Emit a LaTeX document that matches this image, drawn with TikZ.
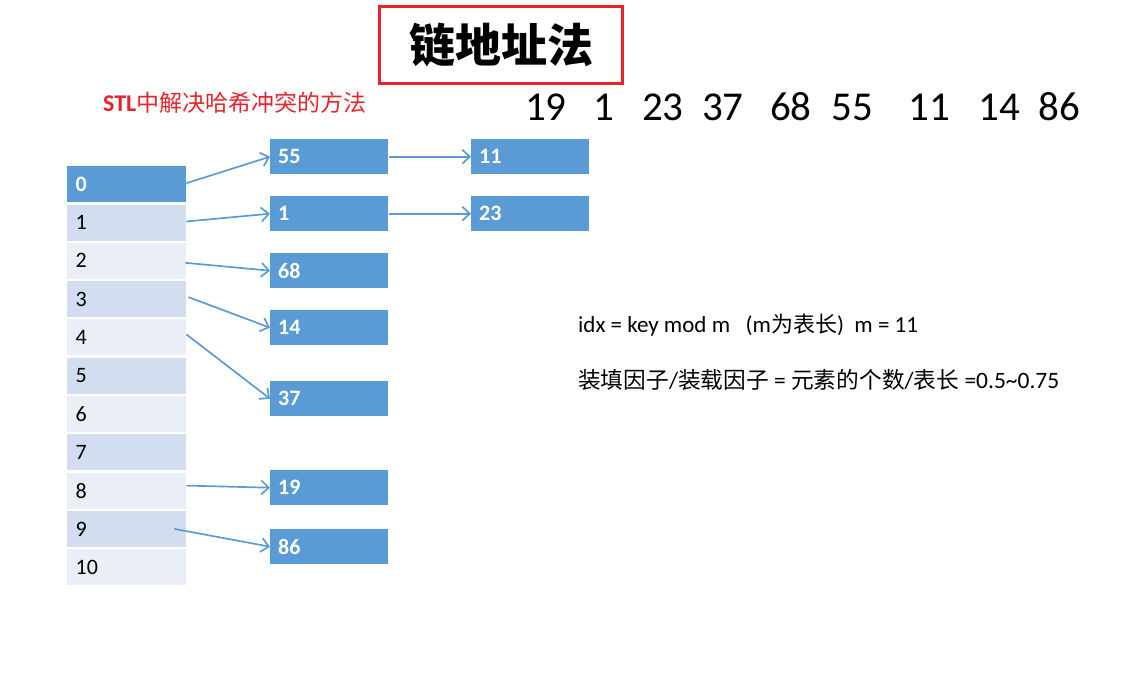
\documentclass[tikz,border=0pt]{standalone}
\usepackage{fontspec}
\setmainfont{Carlito}
\newfontfamily\cjk{Noto Sans CJK SC}
\usetikzlibrary{arrows.meta}
\definecolor{bblue}{HTML}{5B9BD5}
\definecolor{rowa}{HTML}{D2DEEF}
\definecolor{rowb}{HTML}{EAEFF7}
\definecolor{tred}{HTML}{E8232B}
\begin{document}
\begin{tikzpicture}[x=1pt,y=-1pt,
  cell/.style={anchor=north west, minimum width=119pt, minimum height=36pt,
    text width=102pt, inner xsep=8.5pt, inner ysep=0pt, align=left,
    font=\fontsize{22}{26}\selectfont},
  rowA/.style={cell, fill=rowa},
  rowB/.style={cell, fill=rowb},
  head/.style={cell, fill=bblue, text=white, font=\fontsize{22}{26}\selectfont\bfseries},
  entry/.style={anchor=north west, fill=bblue, text=white, minimum width=118pt,
    minimum height=35pt, text width=102pt, inner xsep=8pt, inner ysep=0pt, align=left,
    font=\fontsize{22}{26}\selectfont\bfseries},
  arr/.style={draw=bblue, line width=1.7pt, -{Straight Barb[length=7.5pt,width=14pt]}},
  num/.style={anchor=base west, inner sep=0pt, font=\fontsize{41}{46}\selectfont},
  note/.style={anchor=west, inner sep=0pt}
]
\useasboundingbox (0,0) rectangle (1142,679);

% title
\node[draw=tred, line width=3pt, minimum width=243pt, minimum height=77pt, inner sep=0pt]
  (title) at (501,45) {\raisebox{-2pt}{\cjk\bfseries\fontsize{46}{50}\selectfont 链地址法}};

% subtitle
\node[note, text=tred] (sub) at (103,103)
  {\fontsize{24}{28}\selectfont\bfseries STL\cjk\mdseries\fontsize{23}{28}\selectfont 中解决哈希冲突的方法};

% key numbers
\node[num] (k1) at (525,121) {19};
\node[num] (k2) at (593,121) {1};
\node[num] (k3) at (642,121) {23};
\node[num] (k4) at (702,121) {37};
\node[num] (k5) at (770,121) {68};
\node[num] (k6) at (831,121) {55};
\node[num] (k7) at (908,121) {11};
\node[num] (k8) at (978,121) {14};
\node[num] (k9) at (1038,121) {86};

% hash table
\node[head] (c0) at (67,166) {0};
\node[rowA] (c1) at (67,204.3) {1};
\node[rowB] (c2) at (67,242.6) {2};
\node[rowA] (c3) at (67,280.9) {3};
\node[rowB] (c4) at (67,319.2) {4};
\node[rowA] (c5) at (67,357.5) {5};
\node[rowB] (c6) at (67,395.8) {6};
\node[rowA] (c7) at (67,434.1) {7};
\node[rowB] (c8) at (67,472.4) {8};
\node[rowA] (c9) at (67,510.7) {9};
\node[rowB] (c10) at (67,549) {10};

% chain entries
\node[entry] (e55) at (270,139) {55};
\node[entry] (e1)  at (270,196) {1};
\node[entry] (e68) at (270,253) {68};
\node[entry] (e14) at (270,310) {14};
\node[entry] (e37) at (270,381) {37};
\node[entry] (e19) at (270,470) {19};
\node[entry] (e86) at (270,529) {86};
\node[entry] (e11) at (471,139) {11};
\node[entry] (e23) at (471,196) {23};

% arrows
\draw[arr] ([yshift=1pt]c0.east) -- (e55.west);
\draw[arr] ([yshift=1pt]c1.east) -- (e1.west);
\draw[arr] ([xshift=-1pt,yshift=-2pt]c2.east) -- (e68.west);
\draw[arr] ([xshift=2pt,yshift=2pt]c3.east) -- (e14.west);
\draw[arr] ([yshift=3pt]c4.east) -- (e37.west);
\draw[arr] ([yshift=5pt]c8.east) -- (e19.west);
\draw[arr] ([xshift=-12pt]c9.east) -- (e86.west);
\draw[arr] ([xshift=1pt]e55.east) -- (e11.west);
\draw[arr] ([xshift=1pt]e1.east) -- (e23.west);

% notes
\node[note, font=\fontsize{23}{27}\selectfont] (n1) at (578,325)
  {idx = key mod m \ \ (m{\cjk\fontsize{22}{27}\selectfont 为表长})\ \ m = 11};
\node[note, font=\fontsize{23.5}{28}\selectfont] (n2) at (578,380)
  {{\cjk\fontsize{22.7}{28}\selectfont 装填因子}/{\cjk\fontsize{22.7}{28}\selectfont 装载因子} = {\cjk\fontsize{22.7}{28}\selectfont 元素的个数}/{\cjk\fontsize{22.7}{28}\selectfont 表长} =0.5\char`\~0.75};
\end{tikzpicture}
\end{document}
